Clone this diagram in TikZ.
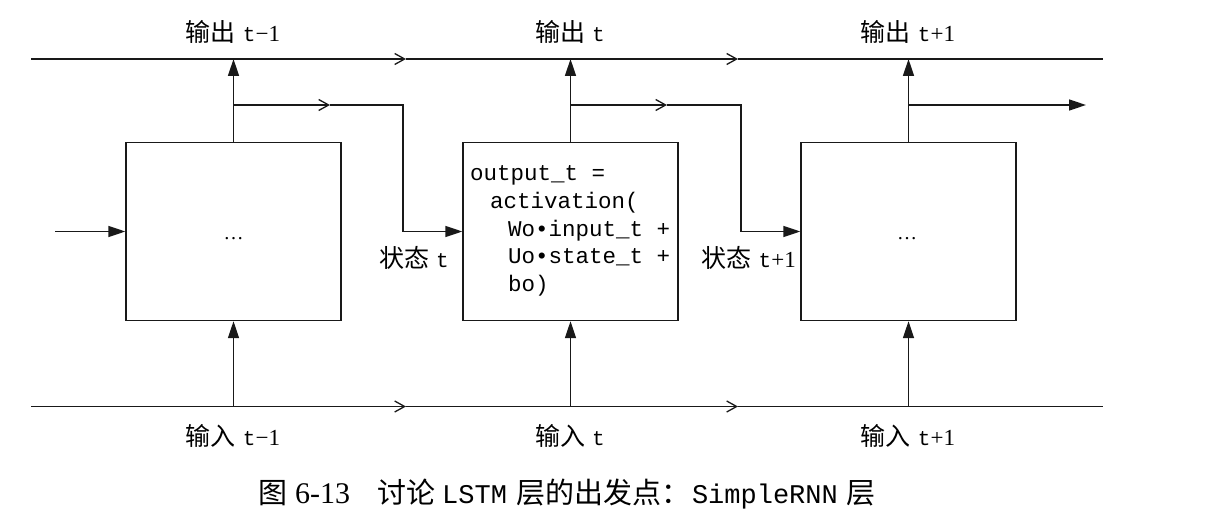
\documentclass[tikz,border=0pt]{standalone}
\usepackage{fontspec}
\setmainfont{Liberation Serif}
\setmonofont{Liberation Mono}
\newfontfamily\cjk{Noto Sans CJK SC}
\usetikzlibrary{arrows.meta}
\newcommand{\tlab}[2]{{\cjk\fontsize{25pt}{28pt}\selectfont #1}\hspace{7pt}{\ttfamily\fontsize{21pt}{24pt}\selectfont t}#2}
\newcommand{\capcjk}[1]{{\cjk\fontsize{29pt}{32pt}\selectfont #1}}
\newcommand{\capmono}[1]{{\ttfamily\fontsize{27pt}{30pt}\selectfont #1}}
\begin{document}
\begin{tikzpicture}[x=1pt,y=-1pt,
  cell/.style={draw=black!90,line width=1.4pt,minimum width=215pt,minimum height=178pt,inner sep=0pt},
  lbl/.style={font=\fontsize{23pt}{26pt}\selectfont,inner sep=0pt,anchor=base},
  codeline/.style={font=\ttfamily\fontsize{22.5pt}{27pt}\selectfont,inner sep=0pt,anchor=base west},
  wire/.style={line width=1.6pt,draw=black!90},
  fa/.style={wire,-{Triangle[length=17pt,width=11pt]}},
  ba/.style={wire,-{Straight Barb[length=10pt,width=11pt,line width=1.3pt]}}]
\useasboundingbox (0,0) rectangle (1220,532);
% boxes
\node[cell] (box1) at (233.5,231.5) {};
\node[cell] (box2) at (570.5,231.5) {};
\node[cell] (box3) at (908.5,231.5) {};
\node[font=\fontsize{20pt}{24pt}\selectfont,inner sep=0pt,anchor=base] (dots1) at (233.5,239) {…};
\node[font=\fontsize{20pt}{24pt}\selectfont,inner sep=0pt,anchor=base] (dots3) at (907,239) {…};
% code
\node[codeline] (c1) at (470,180) {output\_t =};
\node[codeline] (c2) at (490,208) {activation(};
\node[codeline] (c3) at (508,236) {Wo•input\_t +};
\node[codeline] (c4) at (508,263) {Uo•state\_t +};
\node[codeline] (c5) at (508,291) {bo)};
% top line
\coordinate (tl) at (31,59);
\coordinate (tm1) at (406,59);
\coordinate (tm2) at (738,59);
\coordinate (tr) at (1103,59);
\draw[ba] (tl) -- (tm1);
\draw[ba] (tm1) -- (tm2);
\draw[wire] (tm2) -- (tr);
% bottom line
\coordinate (bl) at (31,406.5);
\coordinate (bm1) at (406,406.5);
\coordinate (bm2) at (738,406.5);
\coordinate (br) at (1103,406.5);
\draw[ba] (bl) -- (bm1);
\draw[ba] (bm1) -- (bm2);
\draw[wire] (bm2) -- (br);
% outputs
\draw[fa] (box1.north) -- (box1.north |- tl);
\draw[fa] (box2.north) -- (box2.north |- tl);
\draw[fa] (box3.north) -- (box3.north |- tl);
% inputs
\draw[fa] (box1.south |- bl) -- (box1.south);
\draw[fa] (box2.south |- bl) -- (box2.south);
\draw[fa] (box3.south |- bl) -- (box3.south);
% state branches
\coordinate (s1) at (233.5,105);
\coordinate (s1m) at (330,105);
\coordinate (s1c) at (403,105);
\draw[ba] (s1) -- (s1m);
\draw[fa] (s1m) -- (s1c) |- (box2.west);
\coordinate (s2) at (570.5,105);
\coordinate (s2m) at (667,105);
\coordinate (s2c) at (741,105);
\draw[ba] (s2) -- (s2m);
\draw[fa] (s2m) -- (s2c) |- (box3.west);
\coordinate (s3) at (908.5,105);
\coordinate (s3e) at (1086,105);
\draw[fa] (s3) -- (s3e);
\coordinate (in0) at (55,231.5);
\draw[fa] (in0) -- (box1.west);
% labels
\node[lbl] (o1) at (233,42) {\tlab{输出}{−1}};
\node[lbl] (o2) at (570,42) {\tlab{输出}{}};
\node[lbl] (o3) at (908,42) {\tlab{输出}{+1}};
\node[lbl] (i1) at (233,445) {\tlab{输入}{−1}};
\node[lbl] (i2) at (570,445) {\tlab{输入}{}};
\node[lbl] (i3) at (908,445) {\tlab{输入}{+1}};
\node[lbl,anchor=base east] (st1) at (449,267) {\tlab{状态}{}};
\node[lbl,anchor=base east] (st2) at (796,267) {\tlab{状态}{+1}};
% caption
\node[lbl,anchor=base west,font=\fontsize{30pt}{33pt}\selectfont] (cap) at (258,503) {\capcjk{图}\hspace{8pt}6-13\hspace{27pt}\capcjk{讨论}\hspace{7pt}\capmono{LSTM}\hspace{9pt}\capcjk{层的出发点：}\hspace{2pt}\capmono{SimpleRNN}\hspace{9pt}\capcjk{层}};
\end{tikzpicture}
\end{document}
